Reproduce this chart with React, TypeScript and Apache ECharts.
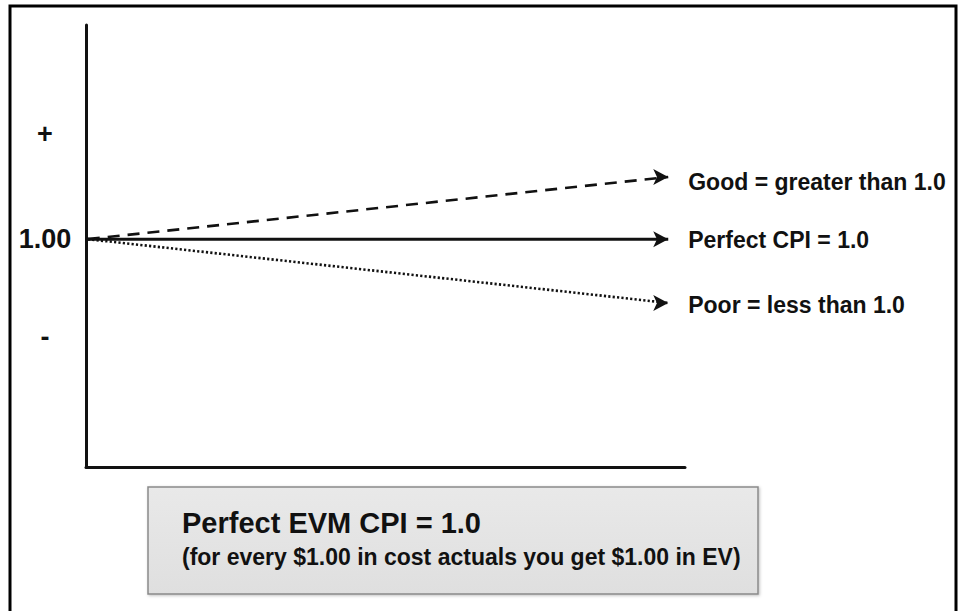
import React, { useEffect, useRef } from "react";
import * as echarts from "echarts";

const xPositions = [0.3, 97.2];
const goodValues = [1.0, 1.273];
const perfectValues = [1.0, 1.0];
const poorValues = [1.0, 0.72];
const seriesNames = ["Good = greater than 1.0", "Perfect CPI = 1.0", "Poor = less than 1.0"];
const yTickValues = [0.57, 1.0, 1.46];
const yTickLabels = ["-", "1.00", "+"];
const boxTitle = "Perfect EVM CPI = 1.0";
const boxSubtitle = "(for every $1.00 in cost actuals you get $1.00 in EV)";

const FONT = '"Liberation Sans", Arial, sans-serif';

function makeSeries(name: string, values: number[], lineType: any, width: number, labelDy: number) {
  return {
    type: "line",
    name,
    data: values.map((v, i) =>
      i === values.length - 1
        ? {
            value: [xPositions[i], v],
            symbol: "arrow",
            symbolSize: [12, 15],
            symbolRotate: -90,
            label: {
              show: true,
              position: "right",
              distance: 20,
              offset: [0, labelDy],
              formatter: name,
              color: "#111",
              fontSize: 23,
              fontWeight: "bold",
              fontFamily: FONT,
            },
          }
        : { value: [xPositions[i], v], symbol: "none" }
    ),
    showSymbol: true,
    showAllSymbol: true,
    symbol: "none",
    itemStyle: { color: "#111" },
    lineStyle: { color: "#111", width, type: lineType },
    silent: true,
    z: 3,
  };
}

export default function App() {
  const ref = useRef<HTMLDivElement>(null);
  useEffect(() => {
    if (!ref.current) return;
    const chart = echarts.init(ref.current, undefined, { renderer: "svg" });
    chart.setOption({
      animation: false,
      backgroundColor: "#ffffff",
      grid: { left: 86, top: 25, right: 276, bottom: 144 },
      xAxis: {
        type: "value",
        min: 0,
        max: 100,
        axisLine: { show: true, lineStyle: { color: "#111", width: 3 } },
        axisTick: { show: false },
        axisLabel: { show: false },
        splitLine: { show: false },
      },
      yAxis: {
        type: "value",
        min: 0,
        max: 1.94,
        axisLine: { show: true, lineStyle: { color: "#111", width: 3 } },
        axisTick: { show: false },
        splitLine: { show: false },
        axisLabel: {
          show: true,
          customValues: yTickValues,
          margin: 41,
          align: "center",
          color: "#111",
          fontSize: 27,
          fontWeight: "bold",
          fontFamily: FONT,
          formatter: (v: number) => {
            const idx = yTickValues.findIndex((t) => Math.abs(t - v) < 1e-6);
            return idx >= 0 ? yTickLabels[idx] : "";
          },
        },
      },
      series: [
        makeSeries(seriesNames[0], goodValues, [12, 8], 2.6, 5),
        makeSeries(seriesNames[1], perfectValues, "solid", 3, 1),
        makeSeries(seriesNames[2], poorValues, [2.2, 2.2], 2.6, 2),
      ],
      graphic: [
        {
          type: "rect",
          shape: { x: 10, y: 6, width: 946, height: 640 },
          style: { fill: "none", stroke: "#000", lineWidth: 3 },
          silent: true,
        },
        {
          type: "rect",
          shape: { x: 148, y: 487, width: 610, height: 107 },
          style: {
            fill: new echarts.graphic.LinearGradient(0, 0, 0, 1, [
              { offset: 0, color: "#e9e9e9" },
              { offset: 1, color: "#dfdfdf" },
            ]),
            stroke: "#8a8a8a",
            lineWidth: 1.5,
            shadowColor: "rgba(0,0,0,0.25)",
            shadowBlur: 3,
            shadowOffsetX: 1,
            shadowOffsetY: 1,
          },
          silent: true,
        },
        {
          type: "text",
          x: 182,
          y: 523,
          style: {
            text: boxTitle,
            fill: "#111",
            font: `bold 29px ${FONT}`,
            textVerticalAlign: "middle",
          },
          silent: true,
        },
        {
          type: "text",
          x: 182,
          y: 557,
          style: {
            text: boxSubtitle,
            fill: "#111",
            font: `bold 23px ${FONT}`,
            textVerticalAlign: "middle",
          },
          silent: true,
        },
      ],
    });
    return () => chart.dispose();
  }, []);
  return (
    <div
      ref={ref}
      style={{ position: "absolute", left: 0, top: 0, width: 961, height: 611 }}
    />
  );
}
